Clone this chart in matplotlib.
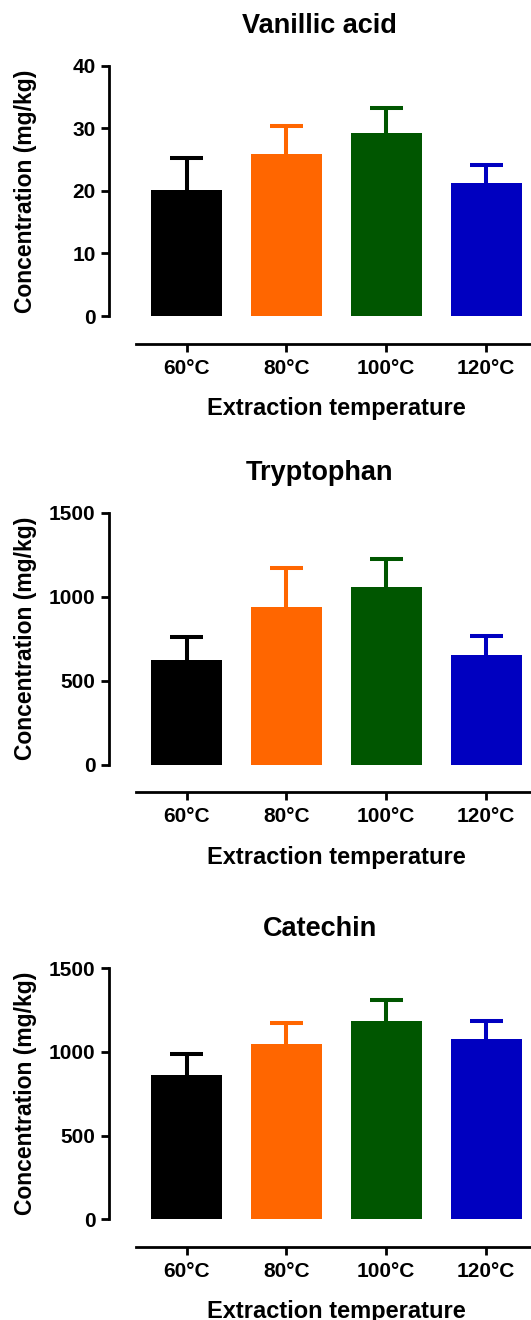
import matplotlib
matplotlib.use("Agg")
import matplotlib.pyplot as plt
import numpy as np

# data
temperatures = ["60°C", "80°C", "100°C", "120°C"]
bar_colors = ["#000000", "#FF6600", "#005600", "#0000C0"]

vanillic_mean = [20.2, 25.9, 29.2, 21.3]
vanillic_err = [5.0, 4.5, 4.1, 2.9]

tryptophan_mean = [625, 936, 1056, 653]
tryptophan_err = [135, 235, 166, 115]

catechin_mean = [860, 1046, 1185, 1076]
catechin_err = [126, 129, 126, 109]

vanillic_ticks = [0, 10, 20, 30, 40]
big_ticks = [0, 500, 1000, 1500]

W, H = 531, 1320
plt.rcParams["font.family"] = ["Liberation Sans", "DejaVu Sans"]
plt.rcParams["font.weight"] = "bold"

fig = plt.figure(figsize=(W / 100, H / 100), dpi=100)


def panel(top_px, bottom_px, title, means, errs, yticks):
    left_px, right_px = 108.7, 531
    height_px = bottom_px - top_px
    ax = fig.add_axes([left_px / W, 1 - bottom_px / H,
                       (right_px - left_px) / W, height_px / H])
    x = np.arange(len(temperatures))
    means = np.asarray(means, dtype=float)
    errs = np.asarray(errs, dtype=float)

    # upper-only error bars, drawn behind the bars
    ax.vlines(x, means, means + errs, colors=bar_colors, linewidth=2.9, zorder=1)
    ax.hlines(means + errs, x - 0.166, x + 0.166, colors=bar_colors, linewidth=2.9, zorder=1)
    ax.bar(x, means, width=0.71, color=bar_colors, zorder=2)

    ax.set_xlim(-0.78, 3.45)
    ax.set_ylim(yticks[0], yticks[-1])
    ax.set_yticks(yticks)
    ax.set_xticks(x)
    ax.set_xticklabels(temperatures)

    for side in ("top", "right"):
        ax.spines[side].set_visible(False)
    ax.spines["left"].set_linewidth(2)
    ax.spines["left"].set_bounds(yticks[0], yticks[-1])
    ax.spines["bottom"].set_linewidth(2)
    ax.spines["bottom"].set_position(("outward", 20))
    ax.spines["bottom"].set_bounds(-0.51, 3.45)

    ax.tick_params(axis="y", length=5.8, width=2, pad=3.6, labelsize=15)
    ax.tick_params(axis="x", length=5.8, width=2, pad=5, labelsize=15)
    for lab in ax.get_xticklabels() + ax.get_yticklabels():
        lab.set_fontweight("bold")

    ax.set_title(title, fontsize=19.5, fontweight="bold", pad=23.5)
    ax.set_xlabel("Extraction temperature", fontsize=17, fontweight="bold")
    ax.xaxis.set_label_coords((336.5 - left_px) / (right_px - left_px), -81 / height_px)
    ax.set_ylabel("Concentration (mg/kg)", fontsize=16.5, fontweight="bold")
    ax.yaxis.set_label_coords(-0.17, 0.5)
    return ax


panel(65.7, 316, "Vanillic acid", vanillic_mean, vanillic_err, vanillic_ticks)
panel(512.7, 764.7, "Tryptophan", tryptophan_mean, tryptophan_err, big_ticks)
panel(968.3, 1219.3, "Catechin", catechin_mean, catechin_err, big_ticks)

fig.savefig("out.png", dpi=100, facecolor="white")
